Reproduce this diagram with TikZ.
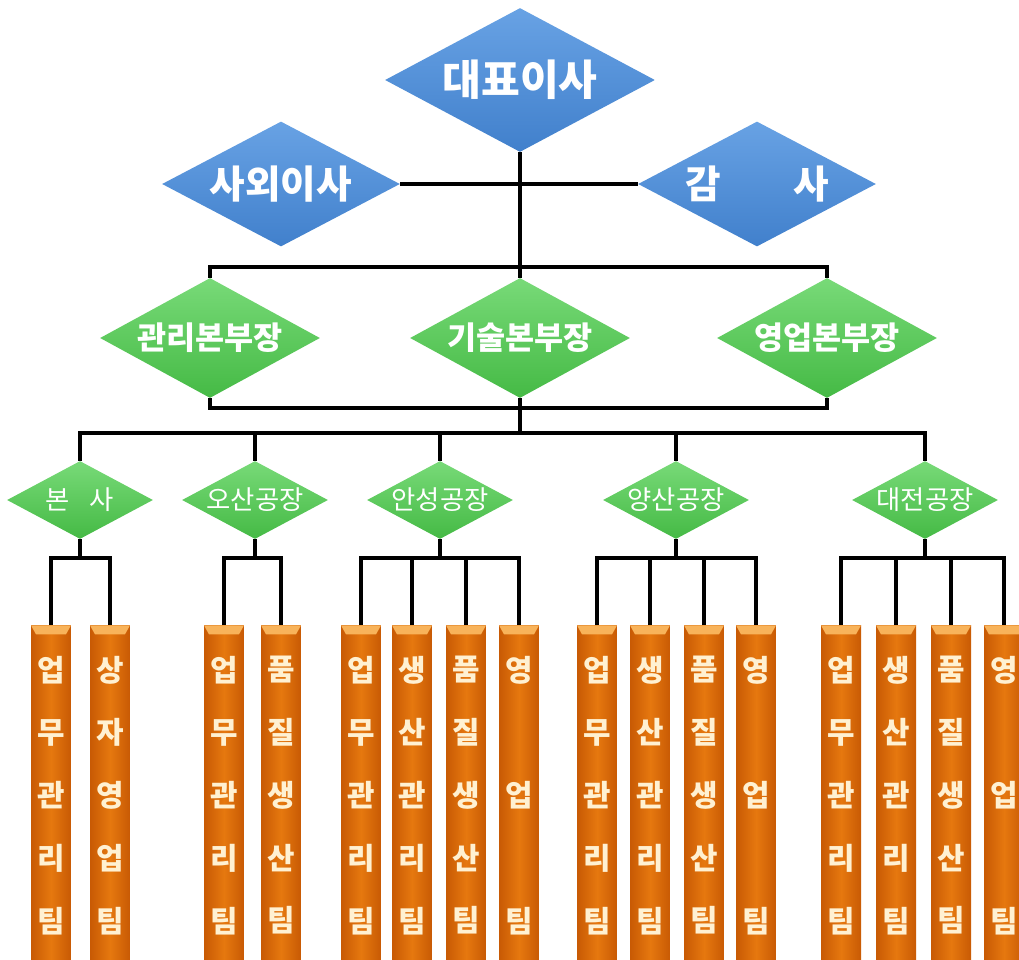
\documentclass[tikz,border=0pt]{standalone}
\usepackage{fontspec}
\setmainfont{Noto Sans CJK KR}
\usetikzlibrary{shapes.geometric}

\definecolor{blueTop}{HTML}{68A2E4}
\definecolor{blueBot}{HTML}{4180CC}
\definecolor{greenTop}{HTML}{78DA78}
\definecolor{greenBot}{HTML}{45BA45}
\definecolor{barMid}{HTML}{E6780F}
\definecolor{barEdge}{HTML}{C85A04}
\definecolor{barTop}{HTML}{F8B35A}
\definecolor{barText}{HTML}{FFF1D2}

% five rows of a team bar
\newcommand{\tb}[5]{#1\\#2\\#3\\#4\\#5}

\begin{document}
\begin{tikzpicture}[x=0.02cm, y=-0.02cm,
    bluebox/.style={diamond, aspect=2, inner sep=-4pt, text=white,
        top color=blueTop, bottom color=blueBot},
    greenbox/.style={diamond, aspect=2, inner sep=-4pt, text=white,
        top color=greenTop, bottom color=greenBot},
    teambar/.style={rectangle, anchor=north, inner sep=0pt,
        minimum width=0.8cm, minimum height=6.8cm, align=center, text=barText,
        left color=barEdge, right color=barEdge, middle color=barMid,
        font=\fontsize{17}{35.7}\selectfont\bfseries,
        path picture={\fill[barTop] (path picture bounding box.north west)
            -- (path picture bounding box.north east) -- ++(-5,9) -- ++(-30,0) -- cycle;}},
    link/.style={line width=2pt}]
    \fill[white] (0,0) rectangle (1019,960);
    \clip (0,0) rectangle (1019,960);

    % top level
    \node[bluebox, minimum width=5.4cm, minimum height=2.88cm, font=\fontsize{24}{28}\selectfont\bfseries] (ceo) at (520,80) {대표이사};
    \node[bluebox, minimum width=4.76cm, minimum height=2.5cm, font=\fontsize{22}{26}\selectfont\bfseries] (outdir) at (281,184) {사외이사};
    \node[bluebox, minimum width=4.76cm, minimum height=2.5cm, font=\fontsize{22}{26}\selectfont\bfseries] (auditor) at (757,184) {감\hspace{1.45cm}사};

    % divisions
    \node[greenbox, minimum width=4.4cm, minimum height=2.4cm, font=\fontsize{18}{22}\selectfont\bfseries] (mgmtdiv) at (210,338) {관리본부장};
    \node[greenbox, minimum width=4.4cm, minimum height=2.4cm, font=\fontsize{18}{22}\selectfont\bfseries] (techdiv) at (520,338) {기술본부장};
    \node[greenbox, minimum width=4.4cm, minimum height=2.4cm, font=\fontsize{18}{22}\selectfont\bfseries] (salesdiv) at (827,338) {영업본부장};

    % sites
    \node[greenbox, minimum width=2.92cm, minimum height=1.56cm, font=\fontsize{15}{18}\selectfont] (hq) at (80,500) {본\hspace{0.4cm}사};
    \node[greenbox, minimum width=2.92cm, minimum height=1.56cm, font=\fontsize{15}{18}\selectfont] (osan) at (255,500) {오산공장};
    \node[greenbox, minimum width=2.92cm, minimum height=1.56cm, font=\fontsize{15}{18}\selectfont] (anseong) at (440,500) {안성공장};
    \node[greenbox, minimum width=2.92cm, minimum height=1.56cm, font=\fontsize{15}{18}\selectfont] (yangsan) at (676,500) {양산공장};
    \node[greenbox, minimum width=2.92cm, minimum height=1.56cm, font=\fontsize{15}{18}\selectfont] (daejeon) at (925,500) {대전공장};

    % teams
    \node[teambar] (hqA) at (51,625) {\tb{업}{무}{관}{리}{팀}};
    \node[teambar] (hqB) at (110,625) {\tb{상}{자}{영}{업}{팀}};
    \node[teambar] (osA) at (224,625) {\tb{업}{무}{관}{리}{팀}};
    \node[teambar] (osB) at (281,625) {\tb{품}{질}{생}{산}{팀}};
    \node[teambar] (asA) at (361,625) {\tb{업}{무}{관}{리}{팀}};
    \node[teambar] (asB) at (412,625) {\tb{생}{산}{관}{리}{팀}};
    \node[teambar] (asC) at (466,625) {\tb{품}{질}{생}{산}{팀}};
    \node[teambar] (asD) at (519,625) {\tb{영}{\strut}{업}{\strut}{팀}};
    \node[teambar] (ysA) at (597,625) {\tb{업}{무}{관}{리}{팀}};
    \node[teambar] (ysB) at (650,625) {\tb{생}{산}{관}{리}{팀}};
    \node[teambar] (ysC) at (704,625) {\tb{품}{질}{생}{산}{팀}};
    \node[teambar] (ysD) at (756,625) {\tb{영}{\strut}{업}{\strut}{팀}};
    \node[teambar] (djA) at (841,625) {\tb{업}{무}{관}{리}{팀}};
    \node[teambar] (djB) at (896,625) {\tb{생}{산}{관}{리}{팀}};
    \node[teambar] (djC) at (951,625) {\tb{품}{질}{생}{산}{팀}};
    \node[teambar] (djD) at (1004,625) {\tb{영}{\strut}{업}{\strut}{팀}};

    % bus points
    \coordinate (busA) at (520,267);
    \coordinate (busB) at (520,408);
    \coordinate (busC) at (520,433);
    \coordinate (hqbus) at (80,558);
    \coordinate (osbus) at (255,558);
    \coordinate (asbus) at (440,558);
    \coordinate (ysbus) at (676,558);
    \coordinate (djbus) at (925,558);

    \draw[link] (outdir.east) -- (auditor.west);
    \draw[link] (ceo.south) -- (busA);
    \draw[link] (mgmtdiv.north) -- (mgmtdiv.north |- busA) -- (salesdiv.north |- busA) -- (salesdiv.north);
    \draw[link] (busA) -- (techdiv.north);
    \draw[link] (mgmtdiv.south) -- (mgmtdiv.south |- busB) -- (salesdiv.south |- busB) -- (salesdiv.south);
    \draw[link] (techdiv.south) -- (busC);
    \draw[link] (hq.north) -- (hq.north |- busC) -- (daejeon.north |- busC) -- (daejeon.north);
    \draw[link] (osan.north) -- (osan.north |- busC);
    \draw[link] (anseong.north) -- (anseong.north |- busC);
    \draw[link] (yangsan.north) -- (yangsan.north |- busC);

    \draw[link] (hq.south) -- (hqbus);
    \draw[link] (hqA.north) -- (hqA.north |- hqbus) -- (hqB.north |- hqbus) -- (hqB.north);
    \draw[link] (osan.south) -- (osbus);
    \draw[link] (osA.north) -- (osA.north |- osbus) -- (osB.north |- osbus) -- (osB.north);
    \draw[link] (anseong.south) -- (asbus);
    \draw[link] (asA.north) -- (asA.north |- asbus) -- (asD.north |- asbus) -- (asD.north);
    \draw[link] (asB.north) -- (asB.north |- asbus);
    \draw[link] (asC.north) -- (asC.north |- asbus);
    \draw[link] (yangsan.south) -- (ysbus);
    \draw[link] (ysA.north) -- (ysA.north |- ysbus) -- (ysD.north |- ysbus) -- (ysD.north);
    \draw[link] (ysB.north) -- (ysB.north |- ysbus);
    \draw[link] (ysC.north) -- (ysC.north |- ysbus);
    \draw[link] (daejeon.south) -- (djbus);
    \draw[link] (djA.north) -- (djA.north |- djbus) -- (djD.north |- djbus) -- (djD.north);
    \draw[link] (djB.north) -- (djB.north |- djbus);
    \draw[link] (djC.north) -- (djC.north |- djbus);
\end{tikzpicture}
\end{document}
